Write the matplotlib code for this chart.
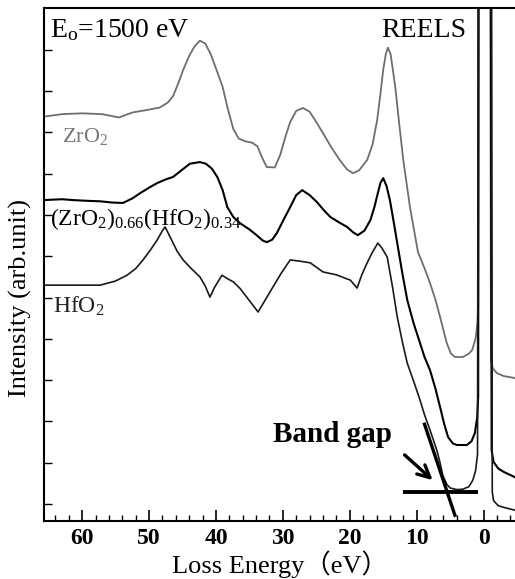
import matplotlib
matplotlib.use("Agg")
import matplotlib.pyplot as plt
from matplotlib.ticker import MultipleLocator

plt.rcParams['font.family'] = ['Liberation Serif', 'Noto Sans CJK SC', 'DejaVu Sans']
plt.rcParams['mathtext.fontset'] = 'custom'
plt.rcParams['mathtext.rm'] = 'Liberation Serif'
plt.rcParams['mathtext.it'] = 'Liberation Serif:italic'
plt.rcParams['mathtext.bf'] = 'Liberation Serif:bold'

# Loss energy (eV) and intensity (arb. units)
zro2_E = [65.7, 63.0, 60.0, 57.0, 54.5, 52.5, 50.0, 48.4, 47.2, 46.4, 45.6, 44.9, 44.0, 43.2,
          42.4, 41.6, 40.8, 40.0, 39.0, 38.2, 37.4, 36.6, 35.6, 34.6, 33.8, 33.0, 32.4,
          31.2, 30.4, 29.6, 28.9, 28.0, 27.0, 26.0, 25.0, 24.0, 22.8, 21.5, 20.4, 19.5,
          18.6, 17.4, 16.6, 15.9, 15.4, 15.0, 14.6, 14.3, 13.9, 13.5, 13.2, 12.6, 12.0,
          11.0, 9.8, 8.8, 8.0, 7.2, 6.5, 5.9, 5.5, 4.9, 4.3, 3.1, 2.2, 1.7, 1.2, 0.9,
          0.8, 0.7, -1.0, -1.1, -1.4, -2.0, -3.0, -4.7]
zro2_I = [10.38, 10.44, 10.46, 10.44, 10.36, 10.48, 10.55, 10.60, 10.72, 10.88, 11.20, 11.51,
          11.85, 12.08, 12.22, 12.15, 11.90, 11.55, 11.10, 10.55, 10.08, 9.85, 9.78, 9.75,
          9.66, 9.35, 9.16, 9.15, 9.45, 9.90, 10.25, 10.52, 10.59, 10.50, 10.25, 9.98, 9.65,
          9.33, 9.10, 9.01, 9.08, 9.33, 9.70, 10.30, 10.95, 11.51, 11.90, 12.05, 11.90,
          11.45, 11.10, 10.20, 9.33, 8.19, 7.10, 6.70, 6.35, 5.95, 5.53, 5.15, 4.90, 4.65,
          4.56, 4.56, 4.64, 4.73, 5.00, 5.40, 5.80, 14.0, 14.0, 4.49, 4.28, 4.17, 4.10, 4.05]

mix_E = [65.7, 63.0, 61.4, 59.0, 57.3, 55.5, 53.9, 52.5, 51.3, 50.0, 48.8, 47.5, 46.4, 45.0,
         43.9, 42.4, 41.5, 40.6, 39.8, 39.0, 38.3, 37.4, 36.4, 35.0, 34.0, 33.0, 32.4,
         31.6, 30.9, 29.9, 28.9, 28.0, 27.1, 26.0, 24.9, 23.9, 22.9, 21.6, 20.4, 19.5,
         18.8, 17.8, 16.9, 16.3, 15.8, 15.4, 15.0, 14.5, 14.0, 13.4, 12.8, 12.1, 11.4,
         10.5, 9.5, 8.8, 8.0, 7.2, 6.5, 5.9, 5.3, 4.6, 4.0, 2.5, 1.8, 1.3, 0.95, 0.8,
         0.75, -1.1, -1.2, -1.5, -2.2, -3.0, -4.7]
mix_I = [8.36, 8.38, 8.36, 8.34, 8.33, 8.30, 8.29, 8.40, 8.53, 8.66, 8.77, 8.86, 8.92, 9.10,
         9.24, 9.28, 9.24, 9.12, 8.92, 8.60, 8.19, 7.95, 7.80, 7.65, 7.52, 7.38, 7.34,
         7.40, 7.56, 7.88, 8.19, 8.48, 8.60, 8.48, 8.31, 8.12, 7.95, 7.82, 7.71, 7.58,
         7.51, 7.62, 7.88, 8.20, 8.53, 8.78, 8.89, 8.70, 8.36, 7.80, 7.22, 6.55, 5.94,
         5.40, 4.90, 4.55, 4.24, 3.80, 3.35, 2.95, 2.62, 2.47, 2.43, 2.43, 2.52, 2.72,
         3.10, 3.60, 14.0, 14.0, 2.30, 2.02, 1.86, 1.78, 1.65]

hfo2_E = [65.7, 61.0, 57.3, 55.0, 53.3, 52.0, 50.9, 49.8, 48.8, 48.0, 47.6, 46.8, 45.8, 44.9,
          43.8, 42.4, 41.6, 40.9, 40.2, 39.1, 38.2, 37.4, 36.4, 35.4, 34.5, 33.7, 32.6,
          31.5, 30.2, 28.9, 27.4, 25.9, 24.0, 22.0, 19.9, 18.9, 18.2, 17.4, 16.6, 15.8,
          15.2, 14.4, 13.6, 12.9, 12.1, 11.4, 10.4, 9.5, 8.8, 8.0, 7.0, 6.5, 6.1, 5.5,
          5.0, 4.0, 3.1, 2.2, 1.6, 1.2, 0.9, 0.8, -1.2, -1.3, -1.5, -2.2, -3.0, -4.7]
hfo2_I = [6.30, 6.30, 6.30, 6.40, 6.54, 6.70, 6.91, 7.15, 7.39, 7.62, 7.71, 7.45, 7.12, 6.91,
          6.72, 6.50, 6.28, 6.01, 6.25, 6.54, 6.45, 6.38, 6.22, 6.01, 5.82, 5.65, 5.95,
          6.25, 6.60, 6.91, 6.88, 6.84, 6.62, 6.55, 6.42, 6.23, 6.55, 6.84, 7.10, 7.32,
          7.20, 6.98, 6.25, 5.53, 4.90, 4.41, 3.95, 3.52, 3.15, 2.79, 2.31, 2.00, 1.70,
          1.48, 1.39, 1.35, 1.36, 1.42, 1.58, 1.80, 2.20, 14.0, 14.0, 1.30, 1.08, 0.96,
          0.92, 0.85]

# band-gap construction
gap_base_E = [12.0, 0.8]
gap_base_I = [1.29, 1.29]
gap_edge_E = [8.9, 4.2]
gap_edge_I = [2.97, 0.69]

xticks = [60, 50, 40, 30, 20, 10, 0]
yticks = list(range(1, 13))

fig = plt.figure(figsize=(5.15, 5.79), dpi=100)
ax = fig.add_axes([44/515, 1 - 521/579, 1 - 44/515, (521 - 8)/579])

ax.plot(zro2_E, zro2_I, color='#6e6e6e', lw=1.3)
ax.plot(mix_E, mix_I, color='black', lw=1.5)
ax.plot(hfo2_E, hfo2_I, color='#1a1a1a', lw=1.2)

ax.plot(gap_base_E, gap_base_I, color='black', lw=2.8, solid_capstyle='butt')
ax.plot(gap_edge_E, gap_edge_I, color='black', lw=2.4, solid_capstyle='butt')
ax.annotate('', xy=(7.6, 1.58), xytext=(11.8, 2.19),
            arrowprops=dict(arrowstyle='->', lw=2.4, color='black',
                            mutation_scale=22, shrinkA=0, shrinkB=0))

ax.set_xlim(65.7, -4.7)
ax.set_ylim(0.59, 13.01)

ax.set_xticks(xticks)
ax.xaxis.set_minor_locator(MultipleLocator(2))
ax.set_yticks(yticks)
ax.set_yticklabels([])
ax.tick_params(axis='x', which='major', direction='in', length=8, width=1.2,
               labelsize=17, pad=5, top=False)
ax.tick_params(axis='x', which='minor', direction='in', length=4, width=1.0, top=False)
ax.tick_params(axis='y', which='major', direction='in', length=6, width=1.0, right=False)
for lab in ax.get_xticklabels():
    lab.set_fontweight('bold')

ax.spines['right'].set_visible(False)
for s in ['left', 'top', 'bottom']:
    ax.spines[s].set_linewidth(1.5)

ax.set_xlabel('Loss Energy（eV）', fontsize=19, labelpad=1)
ax.set_ylabel('Intensity (arb.unit)', fontsize=19)
ax.yaxis.set_label_coords(-0.025, 0.435)

def px(x, y):
    return (x / 515, 1 - y / 579)

fig.text(*px(50, 37), r'E$_\mathrm{o}$=1500 eV', fontsize=20, ha='left', va='baseline')
fig.text(*px(466, 37), 'REELS', fontsize=20, ha='right', va='baseline')
fig.text(*px(62, 142), r'ZrO$_2$', fontsize=16, color='#777777', ha='left', va='baseline')
fig.text(*px(50, 225), r'(ZrO$_2$)$_{0.66}$(HfO$_2$)$_{0.34}$', fontsize=17,
         ha='left', va='baseline')
fig.text(*px(53, 313), r'HfO$_2$', fontsize=17, color='#222222', ha='left', va='baseline')
fig.text(*px(273, 442), 'Band gap', fontsize=21, fontweight='bold', ha='left', va='baseline')

fig.savefig('out.png', dpi=100)
